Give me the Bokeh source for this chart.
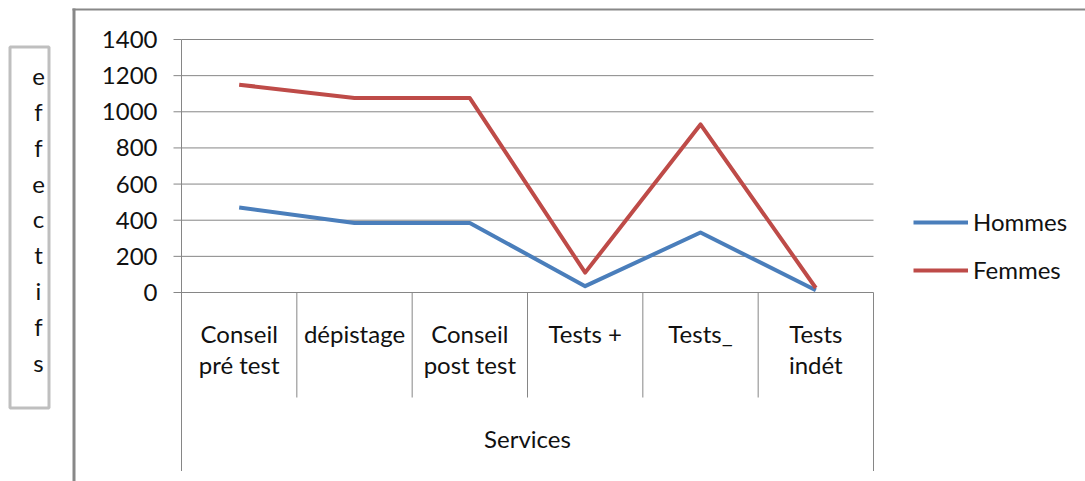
from bokeh.plotting import figure
from bokeh.models import Range1d, Legend, LegendItem
from bokeh.core.properties import value
from bokeh.embed import file_html
from bokeh.resources import INLINE

# ---- data ----
categories = ["Conseil\npré test", "dépistage", "Conseil\npost test",
              "Tests +", "Tests_", "Tests\nindét"]
hommes = [470, 385, 385, 35, 332, 12]
femmes = [1150, 1076, 1076, 110, 930, 25]
y_ticks = [0, 200, 400, 600, 800, 1000, 1200, 1400]
y_tick_labels = ["0", "200", "400", "600", "800", "1000", "1200", "1400"]
series_names = ["Hommes", "Femmes"]
x_title = "Services"
y_title = "effectifs"

# ---- layout (pixels of the page) ----
W, H = 1085, 481
PL, PR, PT, PB = 181, 873, 39, 292          # plot area
Y_MAX = 1400
N = len(categories)
PX_PER_X = (PR - PL) / N
UNITS_PER_PX = Y_MAX / (PB - PT)


def px_x(px):
    return (px - PL) / PX_PER_X


def px_y(py):
    return (PB - py) * UNITS_PER_PX


GRAY = "#868686"
BORDER = "#888888"
BLUE = "#4a7ebb"
RED = "#be4b48"
TXT = "#111111"
FONT = value("Lato")
FS = value("24px")

p = figure(width=W, height=H, title=None,
           x_range=Range1d(px_x(0), px_x(W)), y_range=Range1d(px_y(H), px_y(0)),
           x_axis_location=None, y_axis_location=None,
           output_backend="svg", toolbar_location=None,
           min_border=0)
p.outline_line_color = None
p.xgrid.visible = False
p.ygrid.visible = False
p.background_fill_color = "white"
p.border_fill_color = "white"

xs = [i + 0.5 for i in range(N)]          # category centres on the x scale

# horizontal grid lines
grid_vals = [t for t in y_ticks if t > 0]
p.segment(x0=[0] * len(grid_vals), x1=[N] * len(grid_vals), y0=grid_vals, y1=grid_vals,
          line_color=GRAY, line_width=1)
# y tick marks and category axis line
p.segment(x0=[px_x(173)] * len(y_ticks), x1=[0] * len(y_ticks), y0=y_ticks, y1=y_ticks,
          line_color=GRAY, line_width=1)
p.segment(x0=[0], x1=[N], y0=[0], y1=[0], line_color=GRAY, line_width=1)
# y axis line (continues down through the category table) and right table edge
p.segment(x0=[0, N], x1=[0, N], y0=[Y_MAX, 0], y1=[px_y(470.5), px_y(470.5)],
          line_color=GRAY, line_width=1)
# dividers between categories
p.segment(x0=list(range(1, N)), x1=list(range(1, N)), y0=[0] * (N - 1),
          y1=[px_y(397)] * (N - 1), line_color=GRAY, line_width=1)

# outer chart-area border (left / top)
p.segment(x0=[px_x(73.5)], x1=[px_x(73.5)], y0=[px_y(8)], y1=[px_y(H + 5)],
          line_color=BORDER, line_width=3)
p.segment(x0=[px_x(72)], x1=[px_x(W + 5)], y0=[px_y(9)], y1=[px_y(9)],
          line_color=BORDER, line_width=2)

# y tick labels
p.text(x=[px_x(157)] * len(y_ticks), y=y_ticks, text=y_tick_labels,
       text_align="right", text_baseline="middle",
       text_font=FONT, text_font_size=FS, text_color=TXT)

# category labels
p.text(x=xs, y=[px_y(318)] * N, text=categories,
       text_align="center", text_baseline="top", text_line_height=1.07,
       text_font=FONT, text_font_size=FS, text_color=TXT)

# x title
p.text(x=[N / 2], y=[px_y(438)], text=[x_title],
       text_align="center", text_baseline="alphabetic",
       text_font=FONT, text_font_size=FS, text_color=TXT)

# y title box with stacked letters
p.quad(left=[px_x(9.5)], right=[px_x(48.5)], top=[px_y(46.5)], bottom=[px_y(407.5)],
       fill_alpha=0, line_color="#bfbfbf", line_width=3)
p.text(x=[px_x(38)], y=[px_y(218.5)], text=["\n".join(y_title)],
       text_align="center", text_baseline="middle", text_line_height=1.24,
       text_font=FONT, text_font_size=FS, text_color=TXT)

# series
r_h = p.line(xs, hommes, line_color=BLUE, line_width=4, line_join="round")
r_f = p.line(xs, femmes, line_color=RED, line_width=4, line_join="round")

legend = Legend(items=[LegendItem(label=series_names[0], renderers=[r_h]),
                       LegendItem(label=series_names[1], renderers=[r_f])],
                location=(913, H - 284), orientation="vertical",
                glyph_width=55, glyph_height=24, label_height=24, spacing=19,
                padding=0, margin=0, border_line_color=None,
                background_fill_alpha=0, label_standoff=5,
                label_text_font="Lato", label_text_font_size="24px",
                label_text_color=TXT)
p.add_layout(legend)

open("out.html", "w").write(file_html(p, INLINE))
